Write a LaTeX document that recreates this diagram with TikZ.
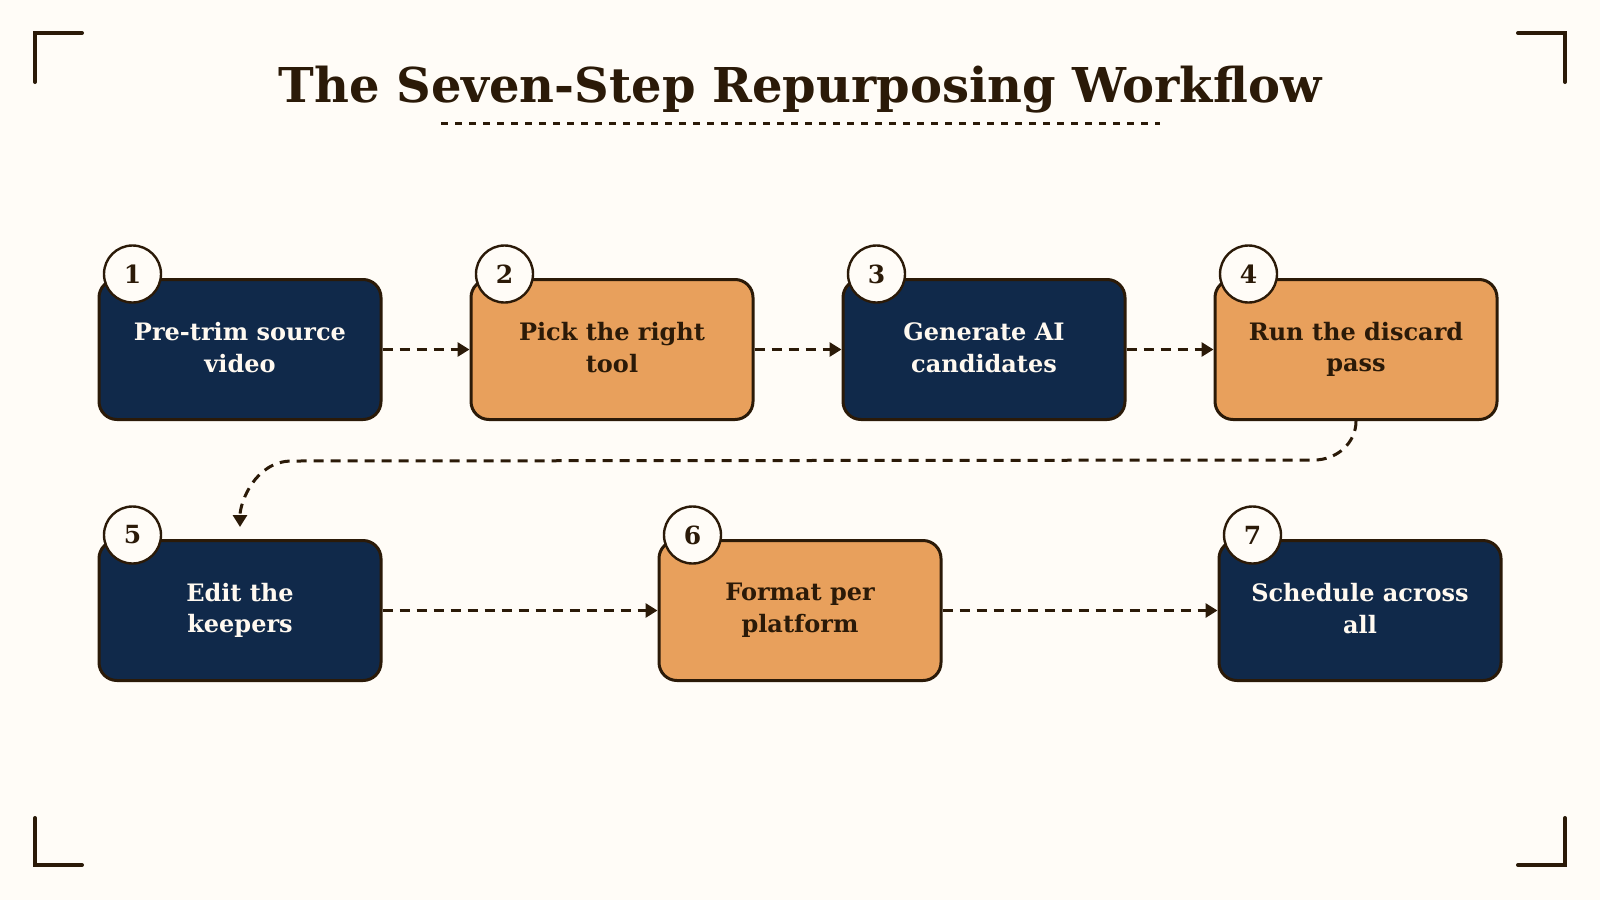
\documentclass[tikz,border=0pt]{standalone}
\usepackage{fontspec}
\setmainfont{DejaVu Serif}
\usepackage{tikz}
\usetikzlibrary{arrows.meta, positioning, calc}
\definecolor{paper}{HTML}{FFFCF7}
\definecolor{ink}{HTML}{2B1A08}
\definecolor{navy}{HTML}{10294A}
\definecolor{tan}{HTML}{E8A05C}
\definecolor{cream}{HTML}{FFF9F0}
\newcommand\linestrut{\rule[-2pt]{0pt}{12pt}}
\tikzset{
  >=Triangle,
  stage/.style   = {draw=ink, line width=1.5pt, rounded corners=9pt,
                    minimum width=141pt, minimum height=70pt, inner sep=2pt,
                    align=center, font=\bfseries\fontsize{12}{15.8}\selectfont,
                    execute at begin node=\linestrut,
                    execute at end node=\linestrut},
  navybox/.style = {stage, fill=navy, text=cream},
  tanbox/.style  = {stage, fill=tan, text=ink},
  badge/.style   = {draw=ink, circle, line width=1.2pt, fill=paper,
                    minimum size=28.5pt, inner sep=0pt, text=ink,
                    font=\bfseries\fontsize{12.5}{12.5}\selectfont},
  flow/.style    = {-{Triangle[length=6pt,width=7pt]}, ink, line width=1.5pt,
                    dash pattern=on 5pt off 3.5pt},
  corner/.style  = {ink, line width=2pt, line cap=round},
}

\begin{document}
\begin{tikzpicture}
  \fill[paper] (0,0) rectangle (800pt,-450pt);
  \useasboundingbox (0,0) rectangle (800pt,-450pt);

  % frame corners
  \draw[corner] (17.5pt,-41pt)   -- (17.5pt,-16.5pt)   -- (41pt,-16.5pt);
  \draw[corner] (782.5pt,-41pt)  -- (782.5pt,-16.5pt)  -- (759pt,-16.5pt);
  \draw[corner] (17.5pt,-409pt)  -- (17.5pt,-432.5pt)  -- (41pt,-432.5pt);
  \draw[corner] (782.5pt,-409pt) -- (782.5pt,-432.5pt) -- (759pt,-432.5pt);

  \node[anchor=base, text=ink, font=\bfseries\fontsize{24}{28}\selectfont]
    (title) at (400pt,-51pt) {The Seven-Step Repurposing Workflow};
  \draw[ink, line width=1.5pt, dash pattern=on 3.5pt off 3.5pt]
    ($(title.base)+(-179.5pt,-10.5pt)$) -- ($(title.base)+(180pt,-10.5pt)$);

  \node[navybox]                   (b1) at (120pt,-174.75pt) {Pre-trim source\\video};
  \node[tanbox,  right=43.5pt of b1] (b2) {Pick the right\\tool};
  \node[navybox, right=43.5pt of b2] (b3) {Generate AI\\candidates};
  \node[tanbox,  right=43.5pt of b3] (b4) {Run the discard\\pass};
  \node[navybox, below=59pt of b1]    (b5) {Edit the\\keepers};
  \node[tanbox,  right=137.5pt of b5] (b6) {Format per\\platform};
  \node[navybox, right=137.5pt of b6] (b7) {Schedule across\\all};

  \foreach \a/\b in {b1/b2, b2/b3, b3/b4, b5/b6, b6/b7}
    \draw[flow] (\a) -- (\b);

  \coordinate (turnR) at ($(b4.south)+(-21pt,-19.5pt)$);
  \coordinate (turnL) at ($(b5.north)+(26pt,39pt)$);
  \draw[flow, shorten >=6pt] (b4.south) to[out=-90,in=0] (turnR)
    -- (turnL) to[out=180,in=90] (b5.north);

  \foreach \i in {1,...,7}
    \node[badge] (n\i) at ($(b\i.north west)+(17.5pt,2pt)$) {\i};
\end{tikzpicture}
\end{document}
